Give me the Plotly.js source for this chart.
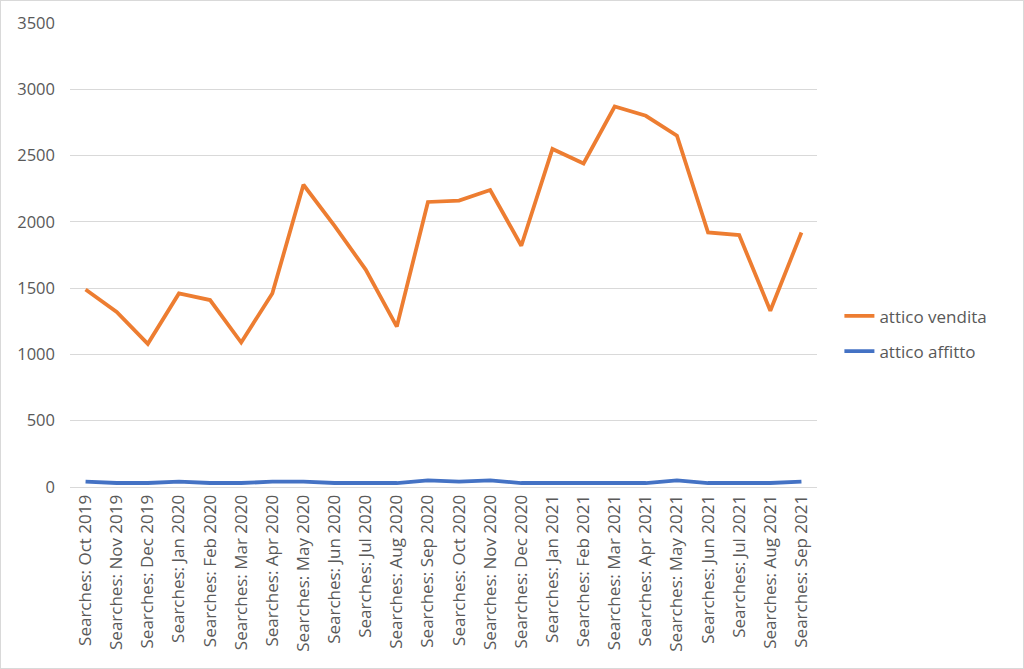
<!DOCTYPE html>
<html>
<head>
<meta charset="utf-8">
<script src="https://cdn.plot.ly/plotly-3.0.1.min.js"></script>
<style>
html,body{margin:0;padding:0;background:#fff;}
#chart{width:1024px;height:669px;box-sizing:border-box;border:1px solid #d9d9d9;}
</style>
</head>
<body>
<div id="chart"></div>
<script>
const months = ["Oct 2019","Nov 2019","Dec 2019","Jan 2020","Feb 2020","Mar 2020","Apr 2020","May 2020","Jun 2020","Jul 2020","Aug 2020","Sep 2020","Oct 2020","Nov 2020","Dec 2020","Jan 2021","Feb 2021","Mar 2021","Apr 2021","May 2021","Jun 2021","Jul 2021","Aug 2021","Sep 2021"];
const categories = months.map(m => "Searches: " + m);
const atticoVendita = [1490,1320,1080,1460,1410,1090,1460,2280,1970,1640,1210,2150,2160,2240,1820,2550,2440,2870,2800,2650,1920,1900,1330,1920];
const atticoAffitto = [40,30,30,40,30,30,40,40,30,30,30,50,40,50,30,30,30,30,30,50,30,30,30,40];
const yTicks = [0,500,1000,1500,2000,2500,3000,3500];

const font = "Open Sans, Noto Sans, sans-serif";
const traces = [
  {x: categories, y: atticoVendita, name: "attico vendita", type: "scatter", mode: "lines",
   legendgroup: "v", line: {color: "#ED7D31", width: 3.8}},
  {x: categories, y: atticoAffitto, name: "attico affitto", type: "scatter", mode: "lines",
   legendgroup: "a", line: {color: "#4472C4", width: 3.8}}
];
const layout = {
  width: 1022, height: 667,
  margin: {l: 69, r: 206, t: 22, b: 181},
  paper_bgcolor: "#fff", plot_bgcolor: "#fff",
  font: {family: font, color: "#595959", size: 16},
  showlegend: true,
  legend: {x: 1.03, xanchor: "left", y: 0.33, yanchor: "middle", font: {size: 17, color: "#595959"},
           tracegroupgap: 10, traceorder: "grouped"},
  xaxis: {type: "category", tickangle: -90, showgrid: false, zeroline: false,
          showline: true, linecolor: "#d9d9d9", linewidth: 1, ticks: "",
          tickfont: {size: 17, color: "#595959"}, range: [-0.5, 23.5]},
  yaxis: {range: [0, 3500], tickvals: yTicks, showgrid: true, gridcolor: "#d9d9d9", gridwidth: 1,
          zeroline: false, showline: false, ticks: "", ticklen: 0, ticklabelstandoff: 14,
          tickfont: {size: 16.5, color: "#595959"}}
};
Plotly.newPlot("chart", traces, layout, {displayModeBar: false, staticPlot: true});
</script>
</body>
</html>
